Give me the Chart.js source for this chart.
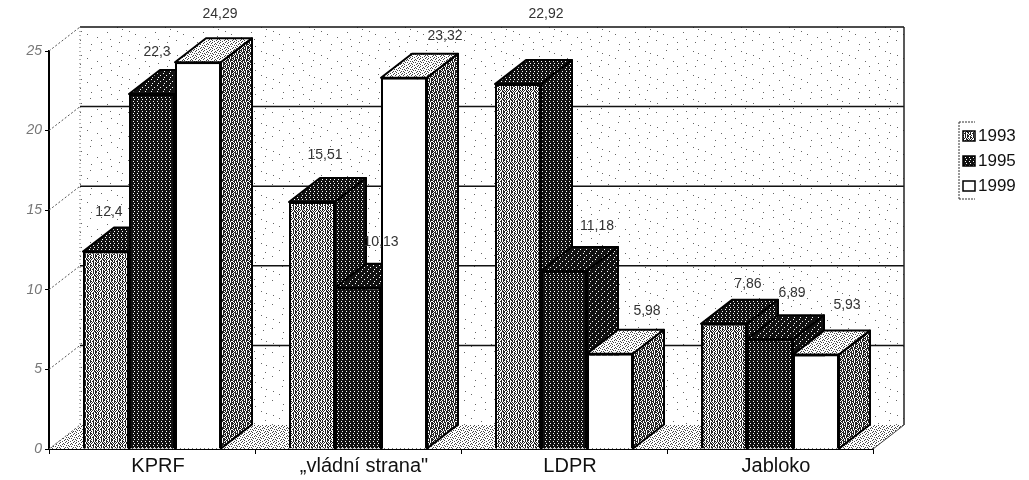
<!DOCTYPE html>
<html>
<head>
<meta charset="utf-8">
<title>Volební výsledky 1993–1999</title>
<style>
  html, body { margin: 0; background: #fff; }
  canvas { display: block; }
</style>
<script src="https://cdn.jsdelivr.net/npm/chart.js@4/dist/chart.umd.min.js"></script>
</head>
<body>
<canvas id="chart" width="1029" height="480"></canvas>
<script>
const categories = ['KPRF', '„vládní strana"', 'LDPR', 'Jabloko'];
const seriesNames = ['1993', '1995', '1999'];
const values1993 = [12.4, 15.51, 22.92, 7.86];
const values1995 = [22.3, 10.13, 11.18, 6.89];
const values1999 = [24.29, 23.32, 5.98, 5.93];

// posun popisků vůči středu sloupce a jeho hornímu okraji
const labelShift1993 = [[3, -39], [13, -47], [28, -70], [24, -40]];
const labelShift1995 = [[5, -42], [23, -46], [33, -45], [22, -46]];
const labelShift1999 = [[22, -48], [41, -42], [37, -43], [31, -49]];

const DEPTH_X = 31;
const DEPTH_Y = 24;

// rastr jako v naskenované předloze: '#' = popředí
function pattern(rows, fg, bg) {
  const c = document.createElement('canvas');
  c.width = rows[0].length;
  c.height = rows.length;
  const g = c.getContext('2d');
  g.fillStyle = bg;
  g.fillRect(0, 0, c.width, c.height);
  g.fillStyle = fg;
  rows.forEach((row, y) => {
    [...row].forEach((ch, x) => { if (ch === '#') g.fillRect(x, y, 1, 1); });
  });
  return g.createPattern(c, 'repeat');
}

const LIGHT_ROWS = ['#.#..#.#', '..##.#.#', '#.#.#.#.', '.#.#..##', '#.#..#.#', '#.#.##..', '.##..#.#', '#..#.#.#'];
const MEDIUM_ROWS = ['#.##.#.#', '.#.###.#', '##.#.#.#', '.#.##.##', '#.###.##', '.##.#.#.', '#.#.##.#', '##.#.#.#'];
const DARK_ROWS = ['####', '#.##', '####', '##.#'];
const BLACK_ROWS = ['######', '#.####', '######', '####.#', '######', '##.###'];
const FLOOR_ROWS = ['#...#...', '..#...#.', '.#..#...', '...#...#', '#.....#.', '..#.#...', '.....#.#', '.#.#....'];
const WALL_ROWS = [
  '................................................',
  '.....#..........................................',
  '..........................................#.....',
  '.....................#..........................',
  '................................................',
  '..........................#.....................',
  '................................................',
  '.................................#..............',
  '...........#....................................',
  '................................................',
  '.......................................#........',
  '................................................',
  '.........................#......................',
  '.#..............................................',
  '................................................',
  '..............#.................................',
  '................................#...............',
  '................................................',
  '.....#.................#........................',
  '................................................',
  '...........................................#....',
  '................................................',
  '...............#................................',
  '................................................',
];

const fills = {
  light: pattern(LIGHT_ROWS, '#222', '#fff'),
  medium: pattern(MEDIUM_ROWS, '#222', '#fff'),
  dark: pattern(DARK_ROWS, '#111', '#fff'),
  black: pattern(BLACK_ROWS, '#111', '#fff'),
  floor: pattern(FLOOR_ROWS, '#444', '#fff'),
  wall: pattern(WALL_ROWS, '#666', '#fff'),
};

const seriesFaces = [
  { front: fills.light, top: fills.dark, side: fills.dark, shift: labelShift1993 },
  { front: fills.dark, top: fills.black, side: fills.black, shift: labelShift1995 },
  { front: '#fff', top: fills.floor, side: fills.medium, shift: labelShift1999 },
];

function poly(ctx, pts, fill, stroke, width) {
  ctx.beginPath();
  pts.forEach((p, i) => (i ? ctx.lineTo(p[0], p[1]) : ctx.moveTo(p[0], p[1])));
  ctx.closePath();
  if (fill) { ctx.fillStyle = fill; ctx.fill(); }
  if (stroke) { ctx.strokeStyle = stroke; ctx.lineWidth = width; ctx.stroke(); }
}

function line(ctx, x1, y1, x2, y2, color, width, dash) {
  ctx.save();
  ctx.strokeStyle = color;
  ctx.lineWidth = width;
  ctx.setLineDash(dash || []);
  ctx.beginPath();
  ctx.moveTo(x1, y1);
  ctx.lineTo(x2, y2);
  ctx.stroke();
  ctx.restore();
}

const depthPlugin = {
  id: 'depth3d',
  // stěny, podlaha a sloupce odzadu dopředu; výchozí pořadí kreslení by 1993 dalo navrch
  beforeDatasetsDraw(chart) {
    const { ctx, chartArea: a, scales } = chart;
    const backL = a.left + DEPTH_X, backR = a.right + DEPTH_X;
    const backT = a.top - DEPTH_Y, backB = a.bottom - DEPTH_Y;
    ctx.save();
    poly(ctx, [[backL, backT], [backR, backT], [backR, backB], [backL, backB]], fills.wall);
    poly(ctx, [[a.left, a.bottom], [backL, backB], [backR, backB], [a.right, a.bottom]], fills.floor);
    scales.y.ticks.forEach(t => {
      const y = scales.y.getPixelForValue(t.value);
      line(ctx, a.left, y, backL, y - DEPTH_Y, '#555', 1, [2, 2]);
      if (t.value > 0) line(ctx, backL, y - DEPTH_Y, backR, y - DEPTH_Y, '#111', 1.5);
    });
    line(ctx, backL, backT, backL, backB, '#666', 1, [1, 3]);
    line(ctx, backR, backT, backR, backB, '#222', 1.5);
    line(ctx, backR, backB, a.right, a.bottom, '#444', 1);

    ctx.lineJoin = 'round';
    chart.data.datasets.forEach((ds, i) => {
      const meta = chart.getDatasetMeta(i);
      const faces = seriesFaces[i];
      meta.data.forEach(bar => {
        const l = bar.x - bar.width / 2, r = bar.x + bar.width / 2;
        poly(ctx, [[l, bar.y], [l + DEPTH_X, bar.y - DEPTH_Y], [r + DEPTH_X, bar.y - DEPTH_Y], [r, bar.y]], faces.top, '#000', 2);
        poly(ctx, [[r, bar.y], [r + DEPTH_X, bar.y - DEPTH_Y], [r + DEPTH_X, bar.base - DEPTH_Y], [r, bar.base]], faces.side, '#000', 2);
      });
      meta.controller.draw();
    });
    ctx.restore();
    return false;
  },
  afterDraw(chart) {
    const ctx = chart.ctx;
    ctx.save();
    ctx.font = '14px "Liberation Sans"';
    ctx.fillStyle = '#333';
    ctx.textAlign = 'center';
    ctx.textBaseline = 'middle';
    chart.data.datasets.forEach((ds, i) => {
      chart.getDatasetMeta(i).data.forEach((bar, j) => {
        const s = seriesFaces[i].shift[j];
        ctx.fillText(String(ds.data[j]).replace('.', ','), bar.x + s[0], bar.y + s[1]);
      });
    });
    // legenda
    const lx = 959;
    line(ctx, lx, 122, lx, 199, '#333', 1, [2, 1]);
    line(ctx, lx, 122, lx + 16, 122, '#333', 1, [2, 1]);
    line(ctx, lx, 199, lx + 16, 199, '#333', 1, [2, 1]);
    ctx.font = '17px "Liberation Sans"';
    ctx.textAlign = 'left';
    chart.data.datasets.forEach((ds, i) => {
      const y = 136 + i * 25;
      poly(ctx, [[lx + 4, y - 5], [lx + 16, y - 5], [lx + 16, y + 5], [lx + 4, y + 5]], ds.backgroundColor, '#000', 1.5);
      ctx.fillStyle = '#111';
      ctx.fillText(ds.label, lx + 19, y);
    });
    ctx.restore();
  },
};

new Chart(document.getElementById('chart'), {
  type: 'bar',
  data: {
    labels: categories,
    datasets: [values1993, values1995, values1999].map((data, i) => ({
      label: seriesNames[i],
      data,
      backgroundColor: seriesFaces[i].front,
      hoverBackgroundColor: seriesFaces[i].front,
      borderColor: '#000',
      borderWidth: 2,
      categoryPercentage: 0.67,
      barPercentage: 1,
    })),
  },
  plugins: [depthPlugin],
  options: {
    responsive: false,
    animation: false,
    layout: { padding: { top: 51, right: 156, bottom: 0, left: 0 } },
    plugins: { legend: { display: false }, tooltip: { enabled: false } },
    scales: {
      x: {
        afterFit: s => { s.height = 31; },
        grid: { drawOnChartArea: false, drawTicks: true, tickLength: 5, color: '#000' },
        border: { color: '#000', width: 2 },
        ticks: { color: '#111', font: { family: 'Liberation Sans', size: 20 }, labelOffset: 6, padding: 0, maxRotation: 0 },
      },
      y: {
        min: 0,
        max: 25,
        afterFit: s => { s.width = 49; },
        grid: { drawOnChartArea: false, drawTicks: true, tickLength: 4, color: '#000' },
        border: { color: '#000', width: 2 },
        ticks: { stepSize: 5, color: '#777', font: { family: 'Liberation Sans', size: 14, style: 'italic' }, padding: 3 },
      },
    },
  },
});
</script>
</body>
</html>
